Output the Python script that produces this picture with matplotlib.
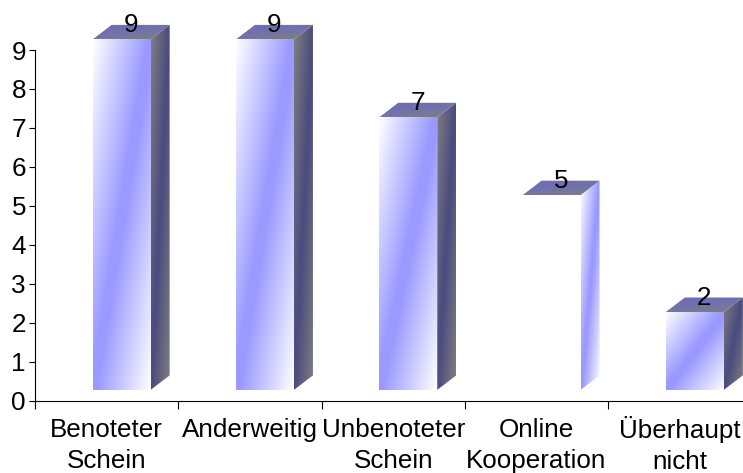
import numpy as np
import matplotlib
matplotlib.use("Agg")
import matplotlib.pyplot as plt
from matplotlib.patches import Polygon
from matplotlib.transforms import ScaledTranslation

categories = ["Benoteter\nSchein", "Anderweitig", "Unbenoteter\nSchein", "Online\nKooperation", "Überhaupt\nnicht"]
values = [9, 9, 7, 5, 2]
yticks = list(range(10))

WHITE = (1, 1, 1)
BLUE = (0.6, 0.6, 1.0)
GRAY = (0.5, 0.5, 0.5)
DARK = (0.3, 0.3, 0.5)
CAP = (0.42, 0.42, 0.75)

plt.rcParams["font.family"] = ["Liberation Sans", "DejaVu Sans"]
W, H = 743, 473
fig = plt.figure(figsize=(W / 100, H / 100), dpi=100)
x0, ybase, ytop = 35, 400.5, 50
unit = (ybase - ytop) / 9
catw = 143.3
ax = fig.add_axes([x0 / W, (H - ybase) / H, (W - x0) / W, ybase / H])
ax.set_xlim(0, (W - x0) / catw)
ax.set_ylim(0, ybase / unit)
ax.patch.set_alpha(0)

depx, depy = 19 / catw, 14.5 / unit
halfw = 29 / catw
shift = 15 / catw
lift = 10.6 / unit


def grad(c0, c1, n=256):
    u, v = np.meshgrid(np.linspace(0, 1, n), np.linspace(0, 1, n))
    t = (u + v) / 2
    s = 1 - np.abs(2 * t - 1)
    s = np.clip(s / 0.95, 0, 1)
    return np.stack([c0[i] + (c1[i] - c0[i]) * s for i in range(3)], axis=2)


def cap_grad(n=128):
    u, v = np.meshgrid(np.linspace(0, 1, n), np.linspace(0, 1, n))
    s = np.clip((u * 0.5 + v) / 1.5, 0, 1) ** 1.5
    return np.stack([CAP[i] + (GRAY[i] - CAP[i]) * s for i in range(3)], axis=2)


def face(pts, img):
    xs = [p[0] for p in pts]
    ys = [p[1] for p in pts]
    im = ax.imshow(img, extent=(min(xs), max(xs), min(ys), max(ys)), origin="upper",
                   aspect="auto", interpolation="bilinear", zorder=2)
    im.set_clip_path(Polygon(pts, closed=True, transform=ax.transData))


for i, val in enumerate(values):
    c = i + 0.5 + shift
    l, r = c - halfw, c + halfw
    b, t = lift, lift + val
    if i != 3:
        face([(l, b), (r, b), (r, t), (l, t)], grad(WHITE, BLUE))
        side = grad(GRAY, DARK)
    else:
        side = grad(WHITE, BLUE)
    face([(r, b), (r + depx, b + depy), (r + depx, t + depy), (r, t)], side)
    face([(l, t), (r, t), (r + depx, t + depy), (l + depx, t + depy)], cap_grad())
    ax.text(c + depx / 2, t + depy, str(val), ha="center", va="center", fontsize=18.7,
            color="black", zorder=5)

ax.set_xticks(np.arange(0, 5))
ax.set_xticklabels([])
ax.set_xticks(np.arange(len(categories)) + 0.5, categories, minor=True)
ax.set_yticks(yticks)
ax.tick_params(axis="x", which="major", length=5.5, width=0.8, color="black")
ax.tick_params(axis="x", which="minor", length=0, labelsize=18.7, pad=12.8)
ax.tick_params(axis="y", length=4.5, width=0.8, labelsize=18.7, pad=2)
for lab in ax.get_xticklabels(minor=True):
    lab.set_linespacing(1.33)
    if "Ü" in lab.get_text():
        lab.set_transform(lab.get_transform() + ScaledTranslation(0, 1.3 / 72, fig.dpi_scale_trans))
ax.spines["top"].set_visible(False)
ax.spines["right"].set_visible(False)
ax.spines["left"].set_bounds(0, 9)
ax.spines["left"].set_linewidth(0.8)
ax.spines["bottom"].set_linewidth(0.8)

fig.savefig("out.png", dpi=100)
